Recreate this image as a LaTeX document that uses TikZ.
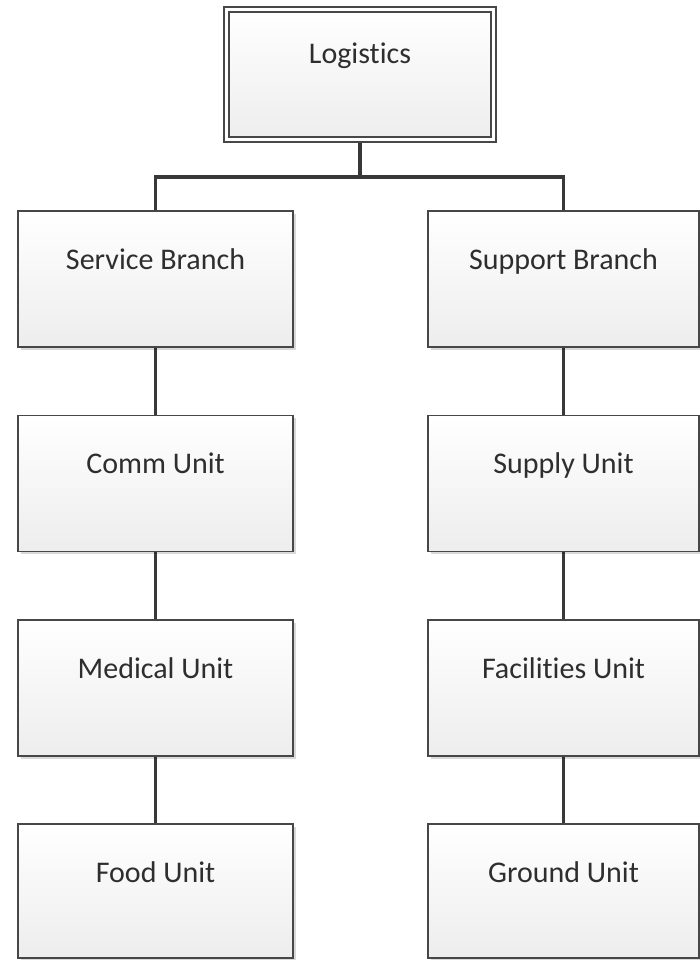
\documentclass[tikz,border=0pt]{standalone}
\usepackage{fontspec}
\setmainfont{Carlito}[Ligatures=NoCommon]
\usetikzlibrary{shadows,backgrounds}
\begin{document}
\begin{tikzpicture}[x=1pt,y=1pt,
  unitbox/.style={draw=black!72, line width=1.8pt, top color=white, bottom color=black!7,
    minimum width=275pt, inner sep=0pt, text height=58pt, text depth=78pt,
    text=black!82, font=\fontsize{30}{36}\selectfont,
    drop shadow={shadow xshift=2.5pt, shadow yshift=-2.5pt, fill=black, opacity=0.15}},
  rightbox/.style={unitbox, minimum width=271pt},
  lastrow/.style={text depth=76pt},
  headbox/.style={unitbox, line width=1.8pt, double=white, double distance=3.6pt,
    minimum width=267pt, text height=54.5pt, text depth=75.5pt},
  link/.style={draw=black!78, line width=3.4pt}]
\useasboundingbox (0,0) rectangle (700,-960);

% head of the chart
\node[headbox] (log) at (360,-74.5) {Logistics};

% left column
\node[unitbox] (svc)  at (155.5,-279) {Service Branch};
\node[unitbox] (comm) at (155.5,-483.5) {Comm Unit};
\node[unitbox] (med)  at (155.5,-688) {Medical Unit};
\node[unitbox, lastrow] (food) at (155.5,-891) {Food Unit};

% right column
\node[rightbox] (sup)  at (563.5,-279) {Support Branch};
\node[rightbox] (supp) at (563.5,-483.5) {Supply Unit};
\node[rightbox] (fac)  at (563.5,-688) {Facilities Unit};
\node[rightbox, lastrow] (grd)  at (563.5,-891) {Ground Unit};

\begin{scope}[on background layer]
  \draw[link] (log.south) -- ++(0,-36.5) coordinate (fork);
  \draw[link] (fork) -| (svc.north);
  \draw[link] (fork) -| (sup.north);
  \draw[link] (svc.south) -- (comm.north);
  \draw[link] (comm.south) -- (med.north);
  \draw[link] (med.south) -- (food.north);
  \draw[link] (sup.south) -- (supp.north);
  \draw[link] (supp.south) -- (fac.north);
  \draw[link] (fac.south) -- (grd.north);
\end{scope}
\end{tikzpicture}
\end{document}
